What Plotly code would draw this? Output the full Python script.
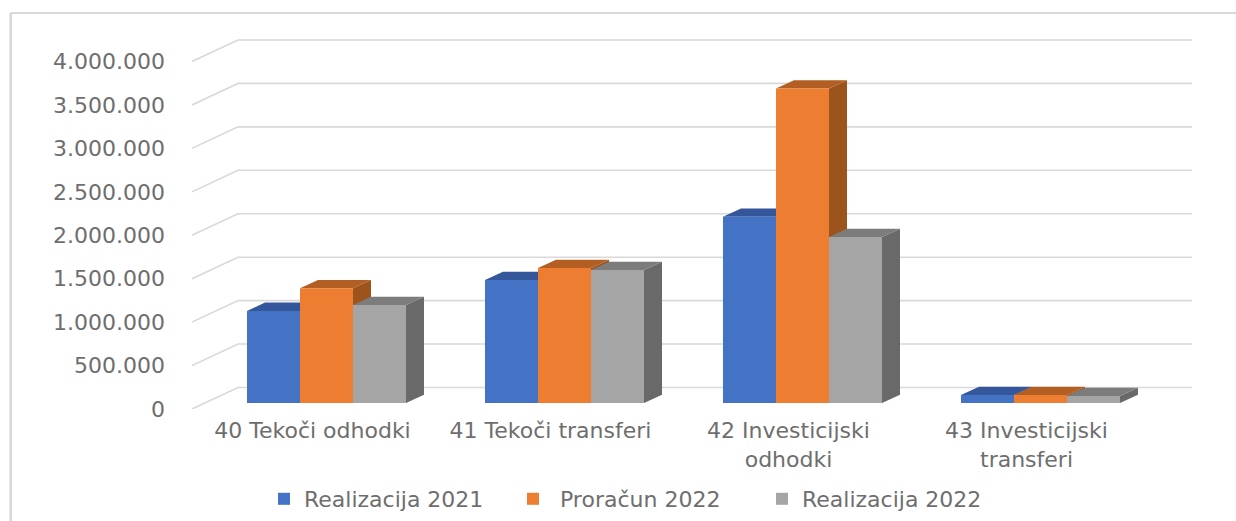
import plotly.graph_objects as go

categories = ["40 Tekoči odhodki", "41 Tekoči transferi", "42 Investicijski<br>odhodki", "43 Investicijski<br>transferi"]
series_names = ["Realizacija 2021", "\u00a0Proračun 2022", "Realizacija 2022"]
realizacija_2021 = [1060000, 1416000, 2144000, 92000]
proracun_2022 = [1320000, 1554000, 3620000, 92000]
realizacija_2022 = [1128000, 1531000, 1910000, 80000]
tick_values = [0, 500000, 1000000, 1500000, 2000000, 2500000, 3000000, 3500000, 4000000]
tick_labels = ["0", "500.000", "1.000.000", "1.500.000", "2.000.000", "2.500.000", "3.000.000", "3.500.000", "4.000.000"]

front_colors = ["#4472C4", "#ED7D31", "#A5A5A5"]
top_colors = ["#34569A", "#B35E22", "#7C7C7C"]
side_colors = ["#2A4A85", "#9C541C", "#696969"]
grid_color = "#D9D9D9"
text_color = "#6E6E6E"
font_family = "DejaVu Sans"
font_size = 22

W, H = 1236, 521
L, R, T, B = 192, 1192, 30, 409      # plot area in page pixels
base_px = 403                        # page row of value 0 on the front of the bars
px_per_value = 43.44 / 500000
px_per_cat = 238.0
first_center_px = 326.5
bar_px = 53.0
depth_dx_px, depth_dy_px = 18.0, 8.3

xu = lambda px: px / px_per_cat
yu = lambda px: px / px_per_value

x_range = [xu(L - first_center_px), xu(R - first_center_px)]
y_range = [-yu(B - base_px), yu(base_px - T)]
bar_w = xu(bar_px)

fig = go.Figure()

# Walls: gridlines with the perspective step on the left
for v in tick_values:
    fig.add_trace(go.Scatter(
        x=[x_range[0], x_range[0] + xu(46), x_range[1]],
        y=[v - yu(6), v + yu(15.5), v + yu(15.5)],
        mode="lines", line=dict(color=grid_color, width=1.6),
        hoverinfo="skip", showlegend=False, yaxis="y", cliponaxis=False))

all_series = [realizacija_2021, proracun_2022, realizacija_2022]

# Depth faces of each bar (under the fronts)
for i in range(len(categories)):
    for j, vals in enumerate(all_series):
        v = vals[i]
        x0 = i + (j - 1.5) * bar_w
        x1 = x0 + bar_w
        dx, dy = xu(depth_dx_px), yu(depth_dy_px)
        fig.add_trace(go.Scatter(
            x=[x1, x1 + dx, x1 + dx, x1, x1], y=[0, dy, v + dy, v, 0],
            fill="toself", fillcolor=side_colors[j], mode="lines", line=dict(width=0),
            hoverinfo="skip", showlegend=False))
        fig.add_trace(go.Scatter(
            x=[x0, x0 + dx, x1 + dx, x1, x0], y=[v, v + dy, v + dy, v, v],
            fill="toself", fillcolor=top_colors[j], mode="lines", line=dict(width=0),
            hoverinfo="skip", showlegend=False))

# Bar fronts, on an overlaid twin axis so they sit above the depth faces
for j, vals in enumerate(all_series):
    fig.add_trace(go.Bar(
        x=list(range(len(categories))), y=vals, name=series_names[j],
        marker=dict(color=front_colors[j], line=dict(width=0)), yaxis="y2"))

fig.update_layout(
    width=W, height=H, autosize=False,
    margin=dict(l=L, r=W - R, t=T, b=H - B, pad=0, autoexpand=False),
    paper_bgcolor="white", plot_bgcolor="white",
    barmode="group", bargap=1 - 3 * bar_w, bargroupgap=0,
    font=dict(family=font_family, size=font_size, color=text_color),
    xaxis=dict(range=x_range, tickmode="array", tickvals=list(range(len(categories))),
               ticktext=categories, showgrid=False, zeroline=False, showline=False, ticks="",
               ticklabelshift=-14, ticklabelstandoff=6, tickfont=dict(size=font_size, color=text_color)),
    yaxis=dict(range=y_range, tickmode="array", tickvals=tick_values, ticktext=tick_labels,
               showgrid=False, zeroline=False, showline=False, ticks="",
               ticklabelshift=6, ticklabelstandoff=26, tickfont=dict(size=font_size, color=text_color)),
    yaxis2=dict(range=y_range, overlaying="y", side="left", visible=False),
    legend=dict(orientation="h", xref="paper", yref="paper", x=(264 - L) / (R - L), y=(B - 499) / (B - T),
                xanchor="left", yanchor="middle", entrywidth=204, entrywidthmode="pixels",
                font=dict(size=font_size, color=text_color), bgcolor="rgba(0,0,0,0)", traceorder="normal"),
    shapes=[
        dict(type="line", xref="paper", yref="paper", layer="below",
             x0=(10.7 - L) / (R - L), x1=(10.7 - L) / (R - L),
             y0=(B - 13) / (B - T), y1=(B - H) / (B - T), line=dict(color=grid_color, width=2.6)),
        dict(type="line", xref="paper", yref="paper", layer="below",
             x0=(10.7 - L) / (R - L), x1=(W - L) / (R - L),
             y0=(B - 13) / (B - T), y1=(B - 13) / (B - T), line=dict(color=grid_color, width=2.2)),
    ],
)

fig.write_html("out.html", config=dict(displayModeBar=False),
               post_script="document.body.style.margin='0';document.documentElement.style.overflow='hidden';document.body.style.overflow='hidden';")
